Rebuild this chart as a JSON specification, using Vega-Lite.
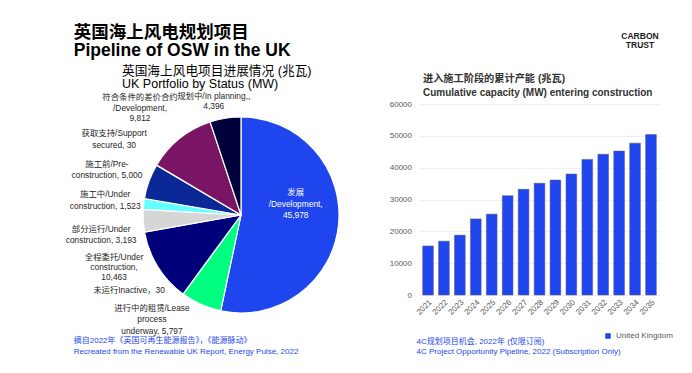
{
  "$schema": "https://vega.github.io/schema/vega-lite/v6.json",
  "background": "white",
  "padding": {"left": 65, "top": 23, "right": 5, "bottom": 5},
  "config": {
    "font": "Liberation Sans, Noto Sans CJK SC",
    "view": {"stroke": null}
  },
  "datasets": {
    "pie": [
      {"k": 1, "status": "发展/Development", "value": 45978, "label": "发展\n/Development,\n45,978"},
      {"k": 2, "status": "进行中的租赁/Lease process underway", "value": 5797, "label": "进行中的租赁/Lease\nprocess\nunderway, 5,797"},
      {"k": 3, "status": "未运行Inactive", "value": 30, "label": "未运行Inactive，30"},
      {"k": 4, "status": "全程委托/Under construction", "value": 10463, "label": "全程委托/Under\nconstruction,\n10,463"},
      {"k": 5, "status": "部分运行/Under construction", "value": 3193, "label": "部分运行/Under\nconstruction, 3,193"},
      {"k": 6, "status": "施工中/Under construction", "value": 1523, "label": "施工中/Under\nconstruction, 1,523"},
      {"k": 7, "status": "施工前/Pre-construction", "value": 5000, "label": "施工前/Pre-\nconstruction, 5,000"},
      {"k": 8, "status": "获取支持/Support secured", "value": 30, "label": "获取支持/Support\nsecured, 30"},
      {"k": 9, "status": "符合条件的差价合约/Development", "value": 9812, "label": "符合条件的差价合约\n/Development,\n9,812"},
      {"k": 10, "status": "规划中/In planning", "value": 4396, "label": "规划中/In planning,,\n4,396"}
    ],
    "bars": [
      {"year": "2021", "mw": 15400, "country": "United Kingdom"},
      {"year": "2022", "mw": 16900, "country": "United Kingdom"},
      {"year": "2023", "mw": 18800, "country": "United Kingdom"},
      {"year": "2024", "mw": 23900, "country": "United Kingdom"},
      {"year": "2025", "mw": 25400, "country": "United Kingdom"},
      {"year": "2026", "mw": 31200, "country": "United Kingdom"},
      {"year": "2027", "mw": 33200, "country": "United Kingdom"},
      {"year": "2028", "mw": 35100, "country": "United Kingdom"},
      {"year": "2029", "mw": 36100, "country": "United Kingdom"},
      {"year": "2030", "mw": 38000, "country": "United Kingdom"},
      {"year": "2031", "mw": 42600, "country": "United Kingdom"},
      {"year": "2032", "mw": 44200, "country": "United Kingdom"},
      {"year": "2033", "mw": 45200, "country": "United Kingdom"},
      {"year": "2034", "mw": 47700, "country": "United Kingdom"},
      {"year": "2035", "mw": 50400, "country": "United Kingdom"}
    ]
  },
  "spacing": 46.5,
  "hconcat": [
    {
      "bounds": "flush",
      "title": {
        "text": ["英国海上风电规划项目", "Pipeline of OSW in the UK"],
        "anchor": "start", "frame": "bounds", "dx": 8, "offset": 5,
        "fontSize": 17.5, "fontWeight": "bold", "lineHeight": 18.5, "color": "#000000"
      },
      "vconcat": [
        {
          "bounds": "flush",
          "title": {
            "text": ["摘自2022年《英国可再生能源报告》，《能源脉动》", "Recreated from the Renewable UK Report, Energy Pulse, 2022"],
            "orient": "bottom", "anchor": "start", "frame": "bounds", "dx": 8, "offset": 2,
            "fontSize": 8, "fontWeight": "normal", "lineHeight": 10.5, "color": "#2448e8"
          },
          "vconcat": [
            {
              "width": 196,
              "height": 222,
              "data": {"name": "pie"},
              "title": {
                "text": "英国海上风电项目进展情况 (兆瓦)",
                "subtitle": "UK Portfolio by Status (MW)",
                "anchor": "start", "frame": "group", "dx": -21, "offset": 1,
                "fontSize": 12.7, "fontWeight": "normal", "color": "#000000",
                "subtitleFontSize": 12.5, "subtitleColor": "#000000", "subtitlePadding": 1
              },
              "layer": [
                {
                  "mark": {"type": "arc", "radius": 98, "stroke": "white", "strokeWidth": 1.2},
                  "encoding": {
                    "theta": {"field": "value", "type": "quantitative", "stack": true},
                    "order": {"field": "k", "type": "quantitative"},
                    "color": {
                      "field": "status", "type": "nominal",
                      "scale": {
                        "domain": ["发展/Development", "进行中的租赁/Lease process underway", "未运行Inactive", "全程委托/Under construction", "部分运行/Under construction", "施工中/Under construction", "施工前/Pre-construction", "获取支持/Support secured", "符合条件的差价合约/Development", "规划中/In planning"],
                        "range": ["#1f45ee", "#00ff80", "#7f7f7f", "#00007a", "#d6d6d6", "#66ffff", "#0a2896", "#9a9a9a", "#7a1464", "#00003c"]
                      },
                      "legend": null
                    }
                  }
                },
                {
                  "mark": {"type": "text", "radius": 55, "dy": -28.5, "align": "center", "baseline": "middle", "fontSize": 8.4, "lineBreak": "\n", "lineHeight": 11.5, "color": "#ffffff"},
                  "encoding": {
                    "theta": {"field": "value", "type": "quantitative", "stack": true},
                    "order": {"field": "k", "type": "quantitative"},
                    "detail": {"field": "status"},
                    "text": {"condition": {"test": "datum.k === 1", "field": "label"}, "value": ""}
                  }
                },
                {
                  "transform": [{"stack": "value", "groupby": [], "sort": [{"field": "k", "order": "ascending"}], "as": ["v0", "v1"]}, {"filter": "datum.k === 2"}],
                  "mark": {"type": "text", "radius": 139, "dx": -7, "dy": -19.5, "align": "center", "baseline": "middle", "fontSize": 8.4, "lineBreak": "\n", "lineHeight": 11.5, "color": "#262626"},
                  "encoding": {"theta": {"field": "v1", "type": "quantitative", "stack": null}, "text": {"field": "label"}}
                },
                {
                  "transform": [{"stack": "value", "groupby": [], "sort": [{"field": "k", "order": "ascending"}], "as": ["v0", "v1"]}, {"filter": "datum.k === 3"}],
                  "mark": {"type": "text", "radius": 100, "dx": -53, "dy": -6, "align": "center", "baseline": "middle", "fontSize": 8.4, "lineBreak": "\n", "lineHeight": 11, "color": "#262626"},
                  "encoding": {"theta": {"field": "v0", "type": "quantitative", "stack": null}, "text": {"field": "label"}}
                },
                {
                  "transform": [{"stack": "value", "groupby": [], "sort": [{"field": "k", "order": "ascending"}], "as": ["v0", "v1"]}, {"filter": "datum.k === 4"}],
                  "mark": {"type": "text", "radius": 138, "dx": 9, "dy": 18, "align": "center", "baseline": "middle", "fontSize": 8.4, "lineBreak": "\n", "lineHeight": 10, "color": "#262626"},
                  "encoding": {"theta": {"field": "v1", "type": "quantitative", "stack": null}, "text": {"field": "label"}}
                },
                {
                  "transform": [{"stack": "value", "groupby": [], "sort": [{"field": "k", "order": "ascending"}], "as": ["v0", "v1"]}, {"filter": "datum.k === 5"}],
                  "mark": {"type": "text", "radius": 141, "dx": -1, "dy": -11, "align": "center", "baseline": "middle", "fontSize": 8.4, "lineBreak": "\n", "lineHeight": 11.5, "color": "#262626"},
                  "encoding": {"theta": {"field": "v0", "type": "quantitative", "stack": null}, "text": {"field": "label"}}
                },
                {
                  "transform": [{"stack": "value", "groupby": [], "sort": [{"field": "k", "order": "ascending"}], "as": ["v0", "v1"]}, {"filter": "datum.k === 6"}],
                  "mark": {"type": "text", "radius": 136, "dx": 0, "dy": -13, "align": "center", "baseline": "middle", "fontSize": 8.4, "lineBreak": "\n", "lineHeight": 11.5, "color": "#262626"},
                  "encoding": {"theta": {"field": "v0", "type": "quantitative", "stack": null}, "text": {"field": "label"}}
                },
                {
                  "transform": [{"stack": "value", "groupby": [], "sort": [{"field": "k", "order": "ascending"}], "as": ["v0", "v1"]}, {"filter": "datum.k === 7"}],
                  "mark": {"type": "text", "radius": 139, "dx": 3, "dy": -28, "align": "center", "baseline": "middle", "fontSize": 8.4, "lineBreak": "\n", "lineHeight": 11.5, "color": "#262626"},
                  "encoding": {"theta": {"field": "v0", "type": "quantitative", "stack": null}, "text": {"field": "label"}}
                },
                {
                  "transform": [{"stack": "value", "groupby": [], "sort": [{"field": "k", "order": "ascending"}], "as": ["v0", "v1"]}, {"filter": "datum.k === 8"}],
                  "mark": {"type": "text", "radius": 145, "dx": -2, "dy": -8, "align": "center", "baseline": "middle", "fontSize": 8.4, "lineBreak": "\n", "lineHeight": 11.5, "color": "#262626"},
                  "encoding": {"theta": {"field": "v0", "type": "quantitative", "stack": null}, "text": {"field": "label"}}
                },
                {
                  "transform": [{"stack": "value", "groupby": [], "sort": [{"field": "k", "order": "ascending"}], "as": ["v0", "v1"]}, {"filter": "datum.k === 9"}],
                  "mark": {"type": "text", "radius": 143, "dx": 22, "dy": -45, "align": "center", "baseline": "middle", "fontSize": 8.4, "lineBreak": "\n", "lineHeight": 10.5, "color": "#262626"},
                  "encoding": {"theta": {"field": "v0", "type": "quantitative", "stack": null}, "text": {"field": "label"}}
                },
                {
                  "transform": [{"stack": "value", "groupby": [], "sort": [{"field": "k", "order": "ascending"}], "as": ["v0", "v1"]}, {"filter": "datum.k === 10"}],
                  "mark": {"type": "text", "radius": 115, "dx": 9, "dy": -10, "align": "center", "baseline": "middle", "fontSize": 8.4, "lineBreak": "\n", "lineHeight": 10.5, "color": "#262626"},
                  "encoding": {"theta": {"field": "v0", "type": "quantitative", "stack": null}, "text": {"field": "label"}}
                }
              ]
            }
          ]
        }
      ]
    },
    {
      "bounds": "flush",
      "title": {
        "text": ["CARBON", "TRUST"],
        "anchor": "end", "frame": "bounds", "align": "center", "dx": -19.5, "offset": 24,
        "fontSize": 8.5, "fontWeight": "bold", "lineHeight": 9.5, "color": "#1a1a1a"
      },
      "vconcat": [
        {
          "width": 240,
          "height": 191,
          "data": {"name": "bars"},
          "title": {
            "text": "进入施工阶段的累计产能 (兆瓦)",
            "subtitle": "Cumulative capacity (MW) entering construction",
            "anchor": "start", "frame": "group", "dx": 3.5, "offset": 2,
            "fontSize": 10.2, "fontWeight": "bold", "color": "#333333",
            "subtitleFontSize": 10, "subtitleFontWeight": "bold", "subtitleColor": "#333333", "subtitlePadding": 4
          },
          "mark": {"type": "bar", "stroke": "#5b5b78", "strokeWidth": 0.7, "strokeOpacity": 0.8},
          "encoding": {
            "x": {
              "field": "year", "type": "ordinal",
              "scale": {"paddingInner": 0.33, "paddingOuter": 0.2},
              "axis": {
                "labelAngle": -45, "labelFontSize": 8, "labelColor": "#595959", "labelPadding": 3,
                "ticks": false, "domain": false,
                "title": ["4C规划项目机会, 2022年 (仅限订阅)", "4C Project Opportunity Pipeline, 2022 (Subscription Only)"],
                "titleAnchor": "start", "titleAlign": "left", "titleX": -3.5, "titleFontSize": 8, "titleFontWeight": "normal",
                "titleColor": "#2448e8", "titleLineHeight": 10.5, "titlePadding": 21
              }
            },
            "y": {
              "field": "mw", "type": "quantitative",
              "scale": {"domain": [0, 60000], "nice": false},
              "axis": {
                "values": [0, 10000, 20000, 30000, 40000, 50000, 60000], "format": "d",
                "labelFontSize": 8, "labelColor": "#595959", "labelPadding": 8,
                "ticks": false, "domain": false, "gridColor": "#efefef", "title": null
              }
            },
            "fill": {
              "field": "country", "type": "nominal",
              "scale": {"range": ["#1f45ee"]},
              "legend": {
                "orient": "none", "legendX": 461, "legendY": 228, "title": null,
                "symbolType": "square", "symbolSize": 30, "symbolStrokeWidth": 0,
                "labelFontSize": 8, "labelColor": "#595959"
              }
            }
          }
        }
      ]
    }
  ]
}
